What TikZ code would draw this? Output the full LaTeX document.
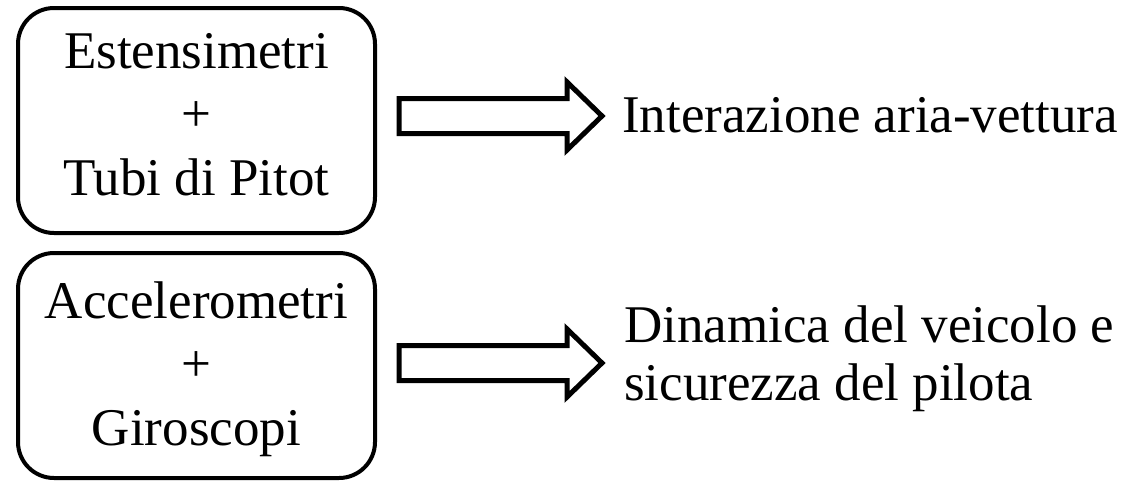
\documentclass[tikz,border=0pt]{standalone}
\usepackage{fontspec}
\setmainfont{Liberation Serif}
\begin{document}
\begin{tikzpicture}[x=1pt,y=-1pt,
  box/.style={draw=black,line width=4pt,rounded corners=36pt,minimum width=357pt,minimum height=225pt,inner sep=0pt},
  txt/.style={inner sep=0pt,anchor=base,font=\fontsize{53}{60}\selectfont},
  ltxt/.style={inner sep=0pt,anchor=base west,font=\fontsize{53}{60}\selectfont},
  blockarrow/.style={draw=black,line width=5pt,line join=miter,fill=white}]
\useasboundingbox (0,0) rectangle (1124,482);
% boxes
\node[box] (b1) at (196.5,120.5) {};
\node[box] (b2) at (196.5,365.5) {};
\node[txt] (b1a) at (196.5,68) {Estensimetri};
\node[txt] (b1b) at (196.5,131.5) {+};
\node[txt] (b1c) at (196.5,195) {Tubi di Pitot};
\node[txt] (b2a) at (196.5,318) {Accelerometri};
\node[txt] (b2b) at (196.5,381.5) {+};
\node[txt] (b2c) at (196.5,445) {Giroscopi};
% arrows
\draw[blockarrow] (399,98.5) -- (567,98.5) -- (567,82) -- (602,116) -- (567,150) -- (567,133.5) -- (399,133.5) -- cycle;
\draw[blockarrow] (399,345.5) -- (567,345.5) -- (567,329) -- (602,363) -- (567,397) -- (567,380.5) -- (399,380.5) -- cycle;
% results
\node[ltxt] (r1) at (622,132) {Interazione aria-vettura};
\node[ltxt] (r2a) at (624,342) {Dinamica del veicolo e};
\node[ltxt] (r2b) at (624,400) {sicurezza del pilota};
\end{tikzpicture}
\end{document}
